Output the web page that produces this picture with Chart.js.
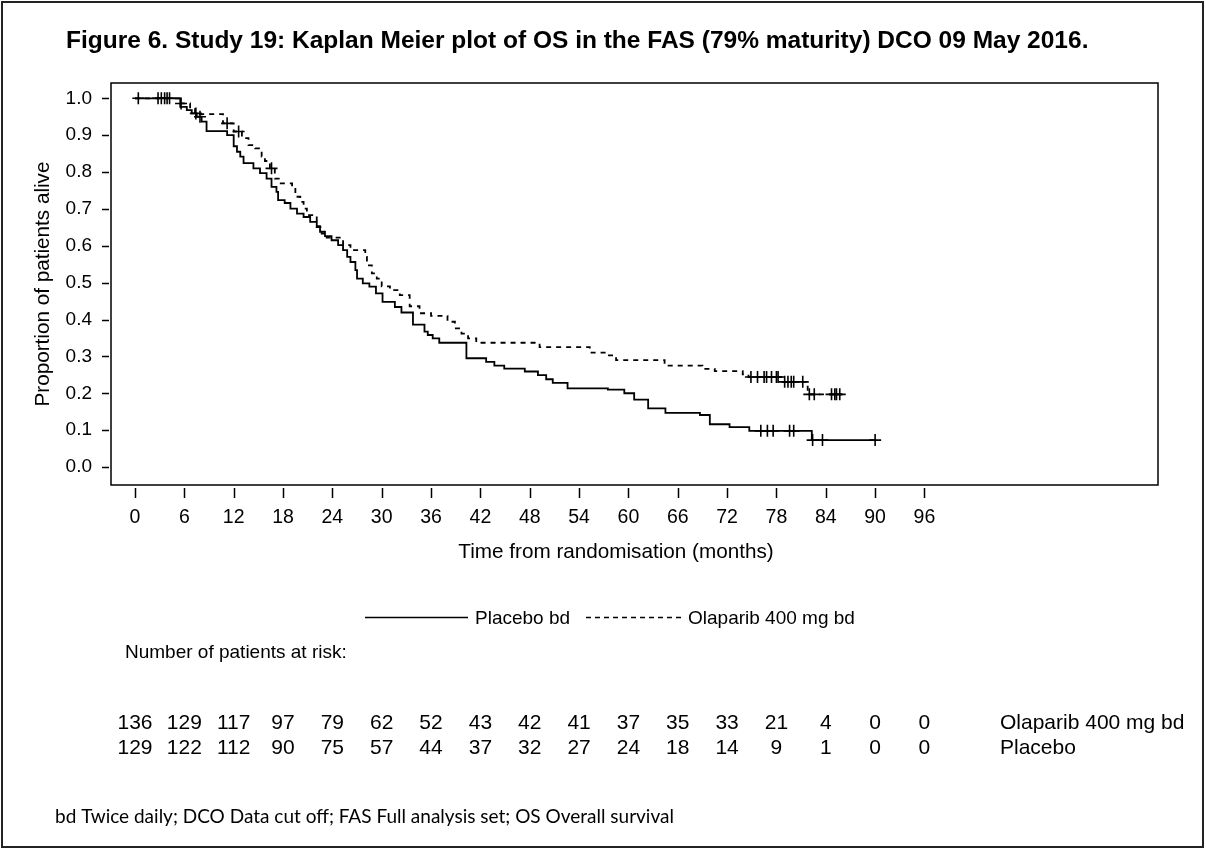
<!DOCTYPE html>
<html><head><meta charset="utf-8">
<script src="https://cdn.jsdelivr.net/npm/chart.js@4.4.0/dist/chart.umd.min.js"></script>
<style>html,body{margin:0;padding:0;background:#fff;}#c{display:block;}</style>
</head><body>
<canvas id="c" width="1206" height="850" style="width:1206px;height:850px"></canvas>
<script>
const xTickValues = [0,6,12,18,24,30,36,42,48,54,60,66,72,78,84,90,96];
const yTickValues = [0,0.1,0.2,0.3,0.4,0.5,0.6,0.7,0.8,0.9,1.0];

const placeboTimes = [0,5.5,6.3,6.9,7.5,8.1,8.7,11.2,12.0,12.4,12.8,13.2,14.4,15.2,16.0,16.6,17.2,17.4,18.2,18.9,19.7,20.5,21.3,22.1,22.5,23.1,23.9,24.7,25.3,25.8,26.2,26.8,27.0,27.7,28.5,29.3,30.1,31.6,32.4,33.8,35.2,35.6,36.2,37.0,40.3,42.7,43.7,44.9,47.4,49.0,50.0,50.8,52.6,57.5,59.5,60.7,62.4,64.5,68.7,69.9,72.3,74.7,82.3,90.0];
const placeboSurv = [1.0,0.977,0.968,0.959,0.950,0.937,0.911,0.900,0.870,0.855,0.842,0.824,0.810,0.797,0.782,0.760,0.746,0.724,0.716,0.701,0.687,0.678,0.665,0.653,0.638,0.626,0.615,0.602,0.588,0.570,0.556,0.534,0.511,0.498,0.489,0.471,0.448,0.434,0.419,0.386,0.367,0.358,0.349,0.337,0.295,0.285,0.275,0.267,0.259,0.249,0.238,0.228,0.213,0.210,0.200,0.183,0.159,0.147,0.141,0.116,0.108,0.098,0.073,0.073];
const placeboCensorTimes = [0.4,3.2,3.9,7.4,7.9,76.1,76.9,77.6,79.6,80.1,82.4,83.6,90.0];
const placeboCensorSurv = [1.0,1.0,1.0,0.959,0.950,0.098,0.098,0.098,0.098,0.098,0.073,0.073,0.073];

const olaparibTimes = [0,5.5,6.7,7.3,10.7,12.0,13.0,13.8,14.6,15.4,15.8,16.4,17.0,17.6,19.1,19.5,20.1,20.5,20.9,22.1,22.7,23.3,25.3,26.2,28.0,28.2,28.8,29.4,30.0,31.0,32.2,33.4,34.6,36.0,38.0,38.9,39.7,40.5,41.5,49.2,55.3,57.3,58.5,64.4,69.0,70.5,73.9,74.6,78.5,81.8,86.0];
const olaparibSurv = [1.0,0.986,0.973,0.957,0.932,0.910,0.892,0.873,0.864,0.842,0.830,0.810,0.782,0.769,0.760,0.733,0.719,0.701,0.683,0.651,0.633,0.622,0.602,0.588,0.570,0.547,0.525,0.511,0.490,0.480,0.466,0.436,0.417,0.410,0.394,0.376,0.362,0.349,0.337,0.325,0.310,0.303,0.290,0.275,0.266,0.260,0.251,0.244,0.231,0.197,0.197];
const olaparibCensorTimes = [2.8,3.6,4.2,5.6,11.2,12.6,16.6,74.9,75.7,76.5,76.8,77.4,78.0,78.2,79.0,79.4,79.8,80.1,81.2,82.0,82.6,84.7,85.1,85.3,85.7];
const olaparibCensorSurv = [1.0,1.0,1.0,0.986,0.932,0.910,0.810,0.244,0.244,0.244,0.244,0.244,0.244,0.244,0.231,0.231,0.231,0.231,0.231,0.197,0.197,0.197,0.197,0.197,0.197];

const riskTimes = [0,6,12,18,24,30,36,42,48,54,60,66,72,78,84,90,96];
const riskOlaparib = [136,129,117,97,79,62,52,43,42,41,37,35,33,21,4,0,0];
const riskPlacebo = [129,122,112,90,75,57,44,37,32,27,24,18,14,9,1,0,0];

const titleText = 'Figure 6. Study 19: Kaplan Meier plot of OS in the FAS (79% maturity) DCO 09 May 2016.';
const xTitle = 'Time from randomisation (months)';
const yTitle = 'Proportion of patients alive';
const legendPlacebo = 'Placebo bd';
const legendOlaparib = 'Olaparib 400 mg bd';
const riskHeader = 'Number of patients at risk:';
const riskLabelOlaparib = 'Olaparib 400 mg bd';
const riskLabelPlacebo = 'Placebo';
const footnote = 'bd Twice daily; DCO Data cut off; FAS Full analysis set; OS Overall survival';

const FONT = '"Liberation Sans", Arial, Helvetica, sans-serif';
const zip = (a, b) => a.map((v, i) => ({x: v, y: b[i]}));

const decor = {
  id: 'decor',
  afterDraw(chart) {
    const ctx = chart.ctx, a = chart.chartArea;
    const xs = chart.scales.x, ys = chart.scales.y;
    ctx.save();
    ctx.strokeStyle = '#000';
    ctx.lineWidth = 1.5;
    ctx.strokeRect(a.left, a.top, a.right - a.left, a.bottom - a.top);
    ctx.beginPath();
    xTickValues.forEach(v => { const p = Math.round(xs.getPixelForValue(v)) + 0.5; ctx.moveTo(p, a.bottom + 3); ctx.lineTo(p, a.bottom + 13); });
    yTickValues.forEach(v => { const p = Math.round(ys.getPixelForValue(v)) + 0.5; ctx.moveTo(a.left - 9, p); ctx.lineTo(a.left - 2, p); });
    ctx.stroke();

    ctx.fillStyle = '#000';
    ctx.textBaseline = 'middle';

    // x axis title
    ctx.textAlign = 'center';
    ctx.font = '20.7px ' + FONT;
    ctx.fillText(xTitle, 616, 552);

    // title
    ctx.textAlign = 'left';
    ctx.font = 'bold 24.5px ' + FONT;
    ctx.fillText(titleText, 66, 41);

    // legend
    ctx.font = '19px ' + FONT;
    ctx.lineWidth = 1.5;
    ctx.beginPath(); ctx.moveTo(365, 617.5); ctx.lineTo(468, 617.5); ctx.stroke();
    ctx.fillText(legendPlacebo, 475, 618.5);
    ctx.setLineDash([5, 4]);
    ctx.beginPath(); ctx.moveTo(586, 617.5); ctx.lineTo(682, 617.5); ctx.stroke();
    ctx.setLineDash([]);
    ctx.fillText(legendOlaparib, 688, 618.5);

    ctx.fillText(riskHeader, 125, 653);

    ctx.font = '21px ' + FONT;
    ctx.textAlign = 'center';
    riskTimes.forEach((t, i) => {
      const p = xs.getPixelForValue(t);
      ctx.fillText(String(riskOlaparib[i]), p, 723.5);
      ctx.fillText(String(riskPlacebo[i]), p, 748.5);
    });
    ctx.textAlign = 'left';
    ctx.fillText(riskLabelOlaparib, 1000, 723.5);
    ctx.fillText(riskLabelPlacebo, 1000, 748.5);

    ctx.font = '19px Lato, "Open Sans", sans-serif';
    ctx.fillText(footnote, 55, 816.5);

    // outer border
    ctx.lineWidth = 2;
    ctx.strokeStyle = '#222';
    ctx.strokeRect(2, 2, 1201, 845);
    ctx.restore();
  }
};

new Chart(document.getElementById('c'), {
  type: 'line',
  data: {
    datasets: [
      {label: 'Placebo bd', data: zip(placeboTimes, placeboSurv), stepped: true, borderColor: '#000', borderWidth: 1.8, pointRadius: 0, fill: false},
      {label: 'Olaparib 400 mg bd', data: zip(olaparibTimes, olaparibSurv), stepped: true, borderColor: '#000', borderWidth: 1.8, borderDash: [5, 5], pointRadius: 0, fill: false},
      {type: 'scatter', label: 'Placebo censored', data: zip(placeboCensorTimes, placeboCensorSurv), pointStyle: 'cross', pointRadius: 6, borderColor: '#000', borderWidth: 1.6, showLine: false},
      {type: 'scatter', label: 'Olaparib censored', data: zip(olaparibCensorTimes, olaparibCensorSurv), pointStyle: 'cross', pointRadius: 6, borderColor: '#000', borderWidth: 1.6, showLine: false}
    ]
  },
  options: {
    responsive: false,
    animation: false,
    devicePixelRatio: 1,
    layout: {padding: {left: 0, top: 83, right: 48, bottom: 285}},
    plugins: {legend: {display: false}, tooltip: {enabled: false}, title: {display: false}},
    scales: {
      x: {
        type: 'linear', min: -2.92, max: 124.4,
        grid: {display: false}, border: {display: false},
        afterBuildTicks: s => { s.ticks = xTickValues.map(v => ({value: v})); },
        afterFit: s => { s.height = 80; },
        ticks: {color: '#000', font: {family: FONT, size: 19.5}, padding: 13, maxRotation: 0, autoSkip: false, callback: v => String(v)},
        title: {display: false, text: xTitle}
      },
      y: {
        type: 'linear', min: -0.0488, max: 1.0415,
        grid: {display: false}, border: {display: false},
        afterBuildTicks: s => { s.ticks = yTickValues.map(v => ({value: v})); },
        afterFit: s => { s.width = 111; },
        ticks: {color: '#000', font: {family: FONT, size: 19}, padding: 11, autoSkip: false, callback: v => Number(v).toFixed(1)},
        title: {display: true, text: yTitle, color: '#000', font: {family: FONT, size: 20.7}, padding: {top: 31, bottom: 0}}
      }
    }
  },
  plugins: [decor]
});
</script>
</body></html>
